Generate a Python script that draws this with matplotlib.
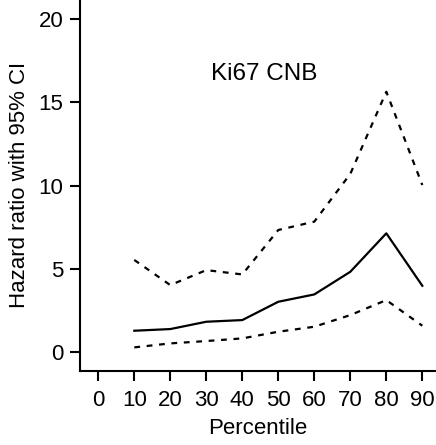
import numpy as np
import matplotlib
matplotlib.use('Agg')
import matplotlib.pyplot as plt

plt.rcParams['font.family'] = ['Liberation Sans', 'DejaVu Sans']

# Datos
percentil = [10, 20, 30, 40, 50, 60, 70, 80, 90]
hr = [1.28, 1.38, 1.82, 1.92, 3.02, 3.46, 4.82, 7.13, 3.98]
ci_bajo = [0.28, 0.52, 0.66, 0.82, 1.22, 1.52, 2.22, 3.12, 1.58]
ci_alto = [5.53, 4.02, 4.92, 4.66, 7.33, 7.83, 10.7, 15.63, 10.03]
xticks = [0, 10, 20, 30, 40, 50, 60, 70, 80, 90]
yticks = [0, 5, 10, 15, 20]

fig = plt.figure(figsize=(4.36, 4.45), dpi=100)
ax = fig.add_axes([80/436, 74.3/445, 1 - 80/436, 1 - 74.3/445])

ax.plot(percentil, hr, '-', color='k', lw=1.6)
ax.plot(percentil, ci_bajo, '--', color='k', lw=1.6, dashes=(2.6, 3.0))
ax.plot(percentil, ci_alto, '--', color='k', lw=1.6, dashes=(2.6, 3.0))

ax.text(46, 16.7, 'Ki67 CNB', ha='center', va='center', fontsize=17.5)

ax.set_xlim(-5.08, 93.8)
ax.set_ylim(-1.12, 21.14)
ax.set_xticks(xticks)
ax.set_yticks(yticks)
ax.spines['top'].set_visible(False)
ax.spines['right'].set_visible(False)
for s in ['left', 'bottom']:
    ax.spines[s].set_linewidth(1.5)
ax.tick_params(direction='out', length=7, width=1.5, labelsize=16)
ax.tick_params(axis='y', pad=5)
ax.tick_params(axis='x', pad=7)
ax.set_xlabel('Percentile', fontsize=16, labelpad=5)
ax.set_ylabel('Hazard ratio with 95% CI', fontsize=16, labelpad=6)

fig.savefig('out.png', dpi=100)
